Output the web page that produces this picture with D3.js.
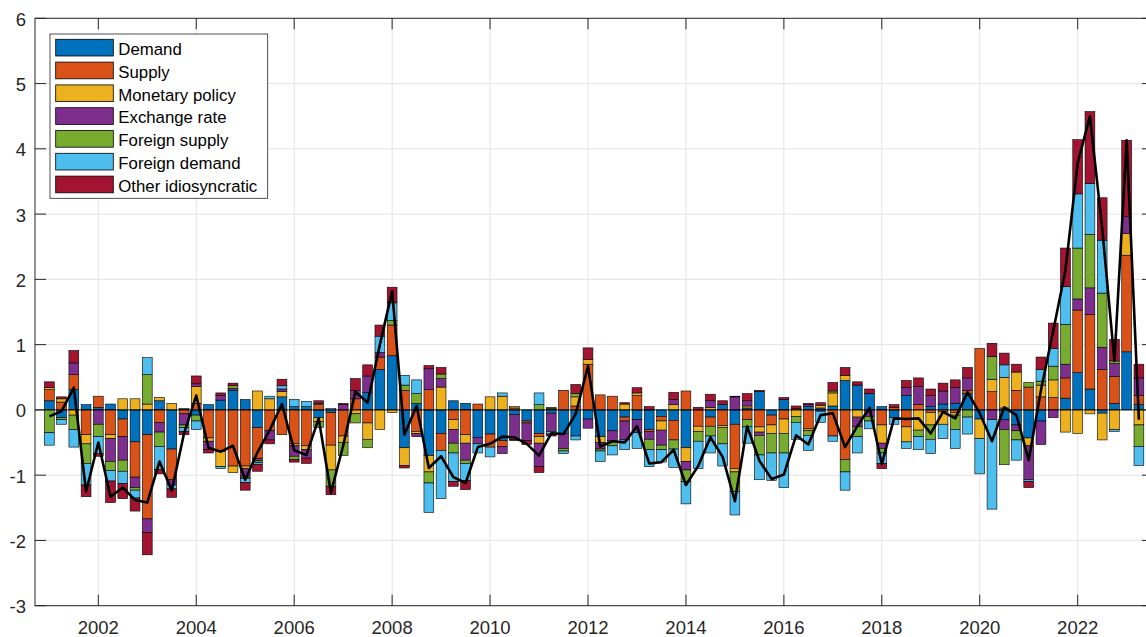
<!DOCTYPE html>
<html><head><meta charset="utf-8">
<script src="https://cdn.jsdelivr.net/npm/d3@7"></script>
<style>
body{margin:0;background:#fff;}
svg{display:block;}
text{font-family:"Liberation Sans",Arial,Helvetica,sans-serif;}
</style>
</head><body>
<svg id="c" width="1146" height="637"></svg>
<script>
const quarters = [
"2001Q1","2001Q2","2001Q3","2001Q4","2002Q1","2002Q2","2002Q3","2002Q4",
"2003Q1","2003Q2","2003Q3","2003Q4","2004Q1","2004Q2","2004Q3","2004Q4",
"2005Q1","2005Q2","2005Q3","2005Q4","2006Q1","2006Q2","2006Q3","2006Q4",
"2007Q1","2007Q2","2007Q3","2007Q4","2008Q1","2008Q2","2008Q3","2008Q4",
"2009Q1","2009Q2","2009Q3","2009Q4","2010Q1","2010Q2","2010Q3","2010Q4",
"2011Q1","2011Q2","2011Q3","2011Q4","2012Q1","2012Q2","2012Q3","2012Q4",
"2013Q1","2013Q2","2013Q3","2013Q4","2014Q1","2014Q2","2014Q3","2014Q4",
"2015Q1","2015Q2","2015Q3","2015Q4","2016Q1","2016Q2","2016Q3","2016Q4",
"2017Q1","2017Q2","2017Q3","2017Q4","2018Q1","2018Q2","2018Q3","2018Q4",
"2019Q1","2019Q2","2019Q3","2019Q4","2020Q1","2020Q2","2020Q3","2020Q4",
"2021Q1","2021Q2","2021Q3","2021Q4","2022Q1","2022Q2","2022Q3","2022Q4",
"2023Q1","2023Q2"];

const demand = [
0.14,-0.12,0.31,0.08,0.04,0.09,-0.14,-0.49,-0.38,0.14,-0.6,0.02,-0.08,0.08,0.15,0.3,
0.16,-0.27,0,0.2,0.05,0.05,-0.12,-0.04,0,0,0.27,0.62,0.83,-0.58,0.1,-0.7,
-0.36,0.14,0.1,-0.42,-0.37,-0.47,-0.07,-0.17,-0.36,-0.05,-0.36,-0.4,-0.14,-0.41,-0.32,-0.11,
-0.15,-0.3,-0.1,-0.16,-0.58,0,-0.11,0.08,-0.22,0.03,0.28,-0.08,0.16,0,0.05,0.03,
0.06,0.45,0.38,0.25,0.05,-0.12,0.22,0,0.05,0.09,0.1,0.25,-0.14,0,-0.15,-0.23,
-0.43,-0.17,0,0.18,0.57,0.32,-0.05,0.1,0.89,0.08];

const supply = [
0.17,0.12,0.23,-0.38,0.17,-0.38,-0.27,-0.54,-1.29,-0.19,-0.47,-0.06,0.1,-0.43,-0.64,-0.86,
-0.86,-0.47,-0.32,-0.38,-0.52,-0.55,0.08,-0.5,-0.4,0.17,-0.2,0.19,0.47,0.3,-0.33,0.31,
-0.26,-0.15,-0.38,0.09,-0.2,-0.09,0.03,-0.03,-0.05,0.02,0.3,0.06,0.7,0.23,0.21,-0.06,
0.22,-0.03,-0.07,-0.3,0.29,-0.25,-0.14,-0.24,-0.68,-0.15,-0.26,-0.15,-0.14,0.02,-0.29,0,
-0.4,-0.76,0,0,-0.23,0.04,-0.26,0.08,-0.04,-0.03,-0.04,0.05,0.94,0.28,0.03,0.3,
0.35,0.2,0.19,0.31,0.96,1.14,0.62,0.41,1.48,0.14];

const monetaryPolicy = [
0.03,0.05,-0.08,-0.14,0,-0.06,0.17,0.17,0.09,0.05,0.1,0,0.26,-0.05,-0.23,-0.1,
-0.04,0.29,0.17,0.08,-0.03,-0.06,-0.06,-0.38,-0.1,-0.06,-0.25,-0.3,-0.04,-0.27,-0.03,-0.25,
0.35,-0.15,-0.13,0,0.2,0.21,0.02,0,-0.1,0,0,0.14,0.07,-0.09,0,0.09,
0.04,0,-0.14,0.08,-0.21,-0.08,0.04,-0.03,-0.05,0.03,-0.08,-0.13,-0.22,-0.1,-0.03,0.04,
0.2,0.08,-0.11,0,-0.28,0,-0.23,-0.31,-0.19,-0.19,-0.04,0,-0.3,0.19,0.47,0.28,
-0.12,0.18,0.27,-0.34,-0.36,-0.06,-0.41,-0.3,0.33,-0.23];

const exchangeRate = [
0,0,0.18,0,-0.22,-0.35,-0.36,-0.16,-0.21,-0.15,-0.08,-0.17,0.04,-0.13,0.07,0.03,
-0.13,-0.04,-0.14,0.04,-0.16,-0.13,0,0,0.08,0.13,0.25,0.07,0,0,-0.05,0.32,
0.13,-0.21,-0.26,-0.1,0,-0.11,-0.38,-0.27,-0.36,-0.28,-0.23,0,-0.14,-0.1,-0.15,-0.29,
-0.2,-0.12,-0.23,0.08,-0.13,0,0.1,0,0.2,0.08,-0.05,0,0,0,0.03,-0.02,
0,0,-0.15,-0.1,-0.08,0,0.12,0.28,0.17,0.2,0.24,0.19,0,-0.15,-0.15,-0.09,
-0.52,-0.36,-0.12,0.21,0.17,0.41,0.34,0.2,0.26,0.27];

const foreignSupply = [
-0.35,-0.03,-0.22,-0.3,-0.19,-0.14,-0.17,-0.04,0.45,-0.22,0,-0.04,-0.09,0,0,0.04,
-0.02,-0.03,0,0,-0.05,0,-0.09,-0.25,-0.2,-0.14,-0.13,0,0.07,0.08,0.15,-0.17,
0.07,-0.15,-0.05,0,0,0,0,0,0.08,0.02,-0.04,0.05,0,-0.03,-0.08,0,
0,-0.16,-0.07,-0.14,-0.18,-0.15,-0.15,-0.25,-0.3,-0.11,-0.3,-0.3,-0.3,-0.09,-0.07,0,
0.03,-0.19,-0.15,-0.07,-0.07,0,0,-0.1,-0.22,0,-0.22,-0.11,0,0.35,-0.54,-0.14,
0.07,0.06,0.21,0.61,0.78,0.82,0.83,0.04,0,-0.33];

const foreignDemand = [
-0.19,-0.07,-0.27,-0.33,-0.26,-0.16,-0.19,-0.12,0.26,-0.35,-0.06,-0.06,-0.13,0,-0.03,0,
-0.06,-0.03,0.04,0.05,0.11,0.08,0.02,0.02,0,0,0,0.25,0.27,0.15,0.21,-0.45,
-0.74,-0.44,-0.26,-0.14,-0.15,0.05,0,0,0.18,-0.04,-0.04,-0.06,0,-0.16,-0.14,-0.15,
-0.24,-0.26,-0.19,-0.28,-0.34,-0.42,-0.26,-0.34,-0.36,-0.25,-0.38,-0.42,-0.53,-0.26,-0.23,-0.17,
-0.08,-0.28,-0.25,-0.12,-0.16,-0.1,-0.1,-0.2,-0.22,-0.22,-0.29,-0.26,-0.54,-1.37,0.19,-0.31,
-0.03,0.18,0.27,0.58,0.83,0.78,0.81,-0.03,0,-0.29];

const otherIdiosyncratic = [
0.09,0.03,0.19,-0.18,-0.04,-0.33,-0.23,-0.2,-0.34,-0.07,-0.13,-0.05,0.12,-0.05,0.04,0.04,
-0.12,-0.1,-0.06,0.1,-0.04,-0.08,0.04,-0.13,0.02,0.18,0.17,0.17,0.24,-0.04,0,0.05,
0.1,-0.07,-0.14,0,0,0,-0.02,-0.06,-0.09,-0.03,0,0.14,0.18,0,0,0.02,
0.08,0.05,0,0.11,0,0.04,0.1,0.06,0.01,0.11,0.02,0,0.03,0.04,0.02,0.04,
0.13,0.12,0.05,0.07,-0.08,0.04,0.11,0.13,0.1,0.12,0.12,0.16,0,0.2,0.18,0.12,
-0.09,0.19,0.39,0.59,0.83,1.1,0.65,0.33,1.17,0.21];

const total = [
-0.1,-0.02,0.34,-1.25,-0.5,-1.33,-1.19,-1.38,-1.42,-0.79,-1.24,-0.36,0.22,-0.58,-0.64,-0.55,
-1.07,-0.65,-0.31,0.09,-0.62,-0.69,-0.13,-1.27,-0.55,0.28,0.11,1.0,1.82,-0.38,0.06,-0.89,
-0.71,-1.03,-1.12,-0.57,-0.52,-0.41,-0.42,-0.52,-0.7,-0.36,-0.37,-0.06,0.67,-0.56,-0.48,-0.5,
-0.25,-0.82,-0.8,-0.61,-1.15,-0.86,-0.42,-0.72,-1.4,-0.25,-0.78,-1.06,-0.99,-0.39,-0.53,-0.08,
-0.05,-0.57,-0.25,0.03,-0.83,-0.13,-0.14,-0.13,-0.36,-0.03,-0.13,0.27,-0.05,-0.48,0.04,-0.08,
-0.77,0.3,1.21,2.14,3.78,4.5,2.79,0.75,4.13,-0.15];

const seriesNames = ["Demand","Supply","Monetary policy","Exchange rate","Foreign supply","Foreign demand","Other idiosyncratic"];
const seriesColors = ["#0072BD","#D95319","#EDB120","#7E2F8E","#77AC30","#4DBEEE","#A2142F"];
const seriesValues = [demand, supply, monetaryPolicy, exchangeRate, foreignSupply, foreignDemand, otherIdiosyncratic];
const xTickLabels = ["2002","2004","2006","2008","2010","2012","2014","2016","2018","2020","2022"];
const yTickLabels = ["-3","-2","-1","0","1","2","3","4","5","6"];

const qToYear = q => +q.slice(0,4) + (+q.slice(5) - 1) / 4;

const rows = quarters.map((q, i) => {
  const r = {q: q, t: qToYear(q)};
  seriesNames.forEach((n, k) => r[n] = seriesValues[k][i]);
  return r;
});

const L = 35, R = 1153, T = 18.3, B = 605.7;
const x = d3.scaleLinear().domain([2000.707, 2023.538]).range([L, R]);
const y = d3.scaleLinear().domain([-3, 6]).range([B, T]);
const barW = x(2001.2) - x(2001);

const svg = d3.select("#c");
svg.append("defs").append("clipPath").attr("id","clip")
  .append("rect").attr("x",L).attr("y",T).attr("width",R-L).attr("height",B-T);

// grid
const grid = svg.append("g");
xTickLabels.forEach(t => {
  grid.append("line").attr("x1",x(+t)).attr("x2",x(+t)).attr("y1",T).attr("y2",B)
    .attr("stroke","#e3e3e3").attr("stroke-width",1);
});
yTickLabels.forEach(t => {
  grid.append("line").attr("x1",L).attr("x2",R).attr("y1",y(+t)).attr("y2",y(+t))
    .attr("stroke","#e3e3e3").attr("stroke-width",1);
});

// stacked bars
const stack = d3.stack().keys(seriesNames).offset(d3.stackOffsetDiverging);
const stacked = stack(rows);
const plot = svg.append("g").attr("clip-path","url(#clip)");
stacked.forEach((layer, k) => {
  plot.append("g").selectAll("rect")
    .data(layer.filter(d => d[1] !== d[0]))
    .join("rect")
    .attr("x", d => x(d.data.t) - barW/2)
    .attr("width", barW)
    .attr("y", d => y(Math.max(d[0], d[1])))
    .attr("height", d => Math.abs(y(d[0]) - y(d[1])))
    .attr("fill", seriesColors[k])
    .attr("stroke", "#000")
    .attr("stroke-width", 0.6);
});

// baseline
plot.append("line").attr("x1",L).attr("x2",R).attr("y1",y(0)).attr("y2",y(0))
  .attr("stroke","#000").attr("stroke-width",0.8);

// total line
const line = d3.line().x((d,i) => x(qToYear(quarters[i]))).y(d => y(d));
plot.append("path").datum(total).attr("d", line)
  .attr("fill","none").attr("stroke","#000").attr("stroke-width",2.6)
  .attr("stroke-linejoin","round");

// axes box & ticks
const ax = svg.append("g").attr("stroke","#262626").attr("stroke-width",1);
ax.append("rect").attr("x",L).attr("y",T).attr("width",R-L).attr("height",B-T).attr("fill","none");
const tl = 11;
xTickLabels.forEach(t => {
  const xv = x(+t);
  ax.append("line").attr("x1",xv).attr("x2",xv).attr("y1",B).attr("y2",B-tl);
  ax.append("line").attr("x1",xv).attr("x2",xv).attr("y1",T).attr("y2",T+tl);
});
yTickLabels.forEach(t => {
  const yv = y(+t);
  ax.append("line").attr("x1",L).attr("x2",L+tl).attr("y1",yv).attr("y2",yv);
  ax.append("line").attr("x1",R).attr("x2",R-tl).attr("y1",yv).attr("y2",yv);
});

// tick labels
const lab = svg.append("g").attr("fill","#262626").style("font-size","18.5px");
xTickLabels.forEach(t => {
  lab.append("text").attr("x",x(+t)).attr("y",634).attr("text-anchor","middle").text(t);
});
yTickLabels.forEach(t => {
  lab.append("text").attr("x",26).attr("y",y(+t)+1).attr("text-anchor","end")
    .attr("dominant-baseline","central").text(t);
});

// legend
const lg = svg.append("g");
lg.append("rect").attr("x",50).attr("y",34).attr("width",217.7).attr("height",164.3)
  .attr("fill","#fff").attr("stroke","#262626").attr("stroke-width",0.8);
seriesNames.forEach((n, k) => {
  const yy = 39.3 + k*22.8;
  lg.append("rect").attr("x",55.7).attr("y",yy).attr("width",57.6).attr("height",16.7)
    .attr("fill",seriesColors[k]).attr("stroke","#000").attr("stroke-width",0.8);
  lg.append("text").attr("x",118.3).attr("y",yy+15.6).style("font-size","16.8px")
    .attr("fill","#000").text(n);
});
</script>
</body></html>
